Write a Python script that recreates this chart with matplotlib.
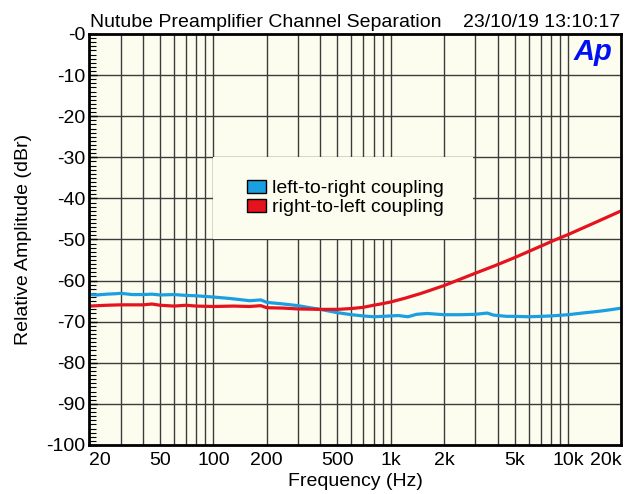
import matplotlib
matplotlib.use("Agg")
import matplotlib.pyplot as plt
from matplotlib.patches import Patch, Rectangle
from matplotlib.ticker import FixedLocator, MultipleLocator, NullFormatter

plt.rcParams['font.family'] = ['Liberation Sans', 'DejaVu Sans']

title = "Nutube Preamplifier Channel Separation"
timestamp = "23/10/19 13:10:17"
xlabel = "Frequency (Hz)"
ylabel = "Relative Amplitude (dBr)"
series_names = ["left-to-right coupling", "right-to-left coupling"]

freq_ltr = [20, 22, 25, 28, 30, 35, 40, 45, 50, 60, 70, 80, 100, 120, 140, 160,
            185, 200, 250, 300, 350, 400, 500, 600, 700, 800, 900, 1000, 1100,
            1250, 1400, 1600, 2000, 2500, 3000, 3500, 3800, 4500, 5000, 6000,
            7000, 8000, 10000, 12000, 14000, 16000, 20000]
ltr_db = [-63.4, -63.5, -63.3, -63.2, -63.1, -63.4, -63.4, -63.3, -63.5, -63.4,
          -63.6, -63.7, -64.0, -64.3, -64.6, -64.9, -64.7, -65.3, -65.7, -66.1,
          -66.6, -67.0, -67.8, -68.3, -68.6, -68.8, -68.7, -68.6, -68.5, -68.8,
          -68.2, -68.0, -68.3, -68.3, -68.2, -67.9, -68.4, -68.7, -68.7, -68.8,
          -68.7, -68.6, -68.3, -67.9, -67.6, -67.3, -66.7]

freq_rtl = [20, 25, 30, 40, 45, 50, 60, 70, 80, 100, 130, 160, 185, 200, 250,
            300, 400, 500, 600, 700, 800, 900, 1000, 1200, 1460, 1660, 2000,
            2230, 3000, 3850, 5000, 6000, 8550, 10000, 14000, 20000]
rtl_db = [-66.2, -66.0, -65.9, -65.9, -65.7, -66.0, -66.2, -66.0, -66.2, -66.3,
          -66.2, -66.3, -66.1, -66.6, -66.7, -66.9, -67.0, -67.0, -66.8, -66.5,
          -66.0, -65.6, -65.2, -64.3, -63.2, -62.4, -61.2, -60.4, -58.2, -56.4,
          -54.4, -52.9, -50.0, -48.8, -46.0, -43.0]

xtick_vals = [20, 50, 100, 200, 500, 1000, 2000, 5000, 10000, 20000]
xtick_labels = ["20", "50", "100", "200", "500", "1k", "2k", "5k", "10k", "20k"]
ytick_vals = list(range(0, -101, -10))
ytick_labels = ["-0"] + [str(v) for v in ytick_vals[1:]]

blue = "#1a9fe2"
red = "#e5131d"
bg = "#fdfdef"
gridc = "#3c3c3c"
fs = 14

fig = plt.figure(figsize=(6.3, 4.94), dpi=100)
ax = fig.add_axes([0.142, 0.0992, 0.8445, 0.832])
ax.set_facecolor(bg)
ax.set_xscale("log")
ax.set_xlim(20, 20000)
ax.set_ylim(-100, 0)

grid_x = []
for dec in [10, 100, 1000, 10000]:
    for m in range(1, 10):
        v = m * dec
        if 20 < v < 20000:
            grid_x.append(v)
for v in grid_x:
    ax.axvline(v, color=gridc, lw=1.0, zorder=1)
for v in ytick_vals[1:-1]:
    ax.axhline(v, color=gridc, lw=1.0, zorder=1)

ax.add_patch(Rectangle((0.232, 0.5), 0.489, 0.2, transform=ax.transAxes,
                       facecolor=bg, edgecolor="none", zorder=2))

ax.plot(freq_ltr, ltr_db, color=blue, lw=2.3, zorder=4, solid_joinstyle="round")
ax.plot(freq_rtl, rtl_db, color=red, lw=2.3, zorder=4, solid_joinstyle="round")

ax.xaxis.set_major_locator(FixedLocator(xtick_vals))
ax.set_xticklabels(xtick_labels, fontsize=fs)
ax.xaxis.set_minor_formatter(NullFormatter())
ax.tick_params(axis="x", which="both", length=0, pad=5)
lbls = ax.get_xticklabels()
lbls[0].set_horizontalalignment("left")
lbls[-1].set_horizontalalignment("right")

ax.set_yticks(ytick_vals)
ax.set_yticklabels(ytick_labels, fontsize=fs)
ax.yaxis.set_minor_locator(MultipleLocator(1))
ax.tick_params(axis="y", which="major", direction="in", length=6, width=1, pad=3)
ax.tick_params(axis="y", which="minor", direction="in", length=5, width=0.8)

for s in ax.spines.values():
    s.set_linewidth(2.0)
    s.set_color("black")
    s.set_zorder(5)

ax.set_xlabel(xlabel, fontsize=fs, labelpad=3)
ax.set_ylabel(ylabel, fontsize=fs, labelpad=10)

fig.text(0.1435, 0.945, title, fontsize=fs, ha="left", va="baseline")
fig.text(0.984, 0.945, timestamp, fontsize=fs, ha="right", va="baseline")
ax.text(0.983, 0.99, "Ap", transform=ax.transAxes, ha="right", va="top",
        fontsize=21, fontweight="bold", fontstyle="italic", color="#0010f5", zorder=6)

handles = [Patch(facecolor=blue, edgecolor="black", lw=1.0),
           Patch(facecolor=red, edgecolor="black", lw=1.0)]
leg = ax.legend(handles, series_names, loc="center", bbox_to_anchor=(0.481, 0.6),
                frameon=False, fontsize=fs, handlelength=0.95, handleheight=0.6,
                handletextpad=0.3, labelspacing=0.1, borderpad=0)
leg.set_zorder(6)

fig.savefig("out.png", dpi=100)
